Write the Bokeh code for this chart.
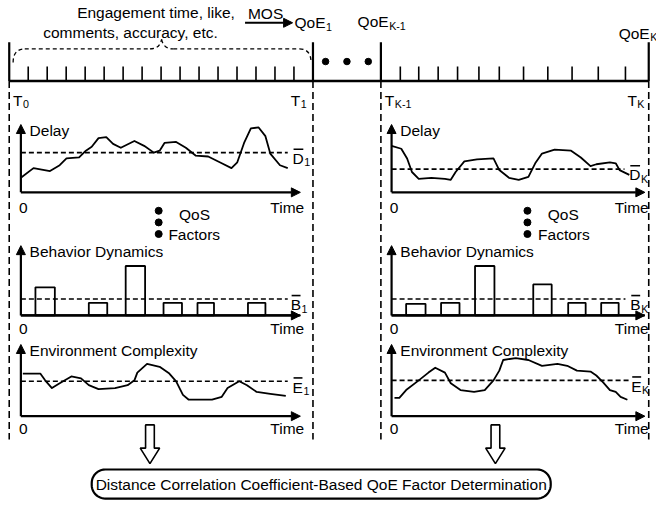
import numpy as np
from bokeh.plotting import figure
from bokeh.models import Range1d, Arrow, NormalHead
from bokeh.core.properties import value
from bokeh.embed import file_html
from bokeh.resources import INLINE

# ---------------- data (panel-local: time offset, value above axis) ----------------
delay1_t = [0, 13, 30, 40, 47, 60, 67, 73, 80, 88, 95, 103, 117, 127, 137, 143, 148, 160, 170, 180,
            193, 207, 217, 223, 230, 237, 245, 252, 257, 267, 275]
delay1_v = [15, 25, 22, 28, 35, 36, 43, 47, 56, 57, 50, 46, 53, 48, 41, 43, 51, 52, 46, 38,
            37, 30, 25, 31, 51, 66, 67, 58, 40, 28, 25]
delay1_mean = 41

delayK_t = [0, 10, 16, 21, 28, 41, 55, 61, 66, 75, 88, 105, 111, 121, 131, 141, 148, 155, 168, 185,
            195, 205, 211, 225, 231, 235, 245]
delayK_v = [48, 45, 35, 21, 14, 15, 14, 13, 21, 32, 34, 35, 23, 15, 13, 16, 30, 40, 44, 43,
            36, 27, 29, 31, 30, 23, 18]
delayK_mean = 24

beh1_left = [15, 70, 108, 147, 182, 234]
beh1_right = [35, 89, 128, 166, 199, 252]
beh1_h = [29, 13, 51, 13, 13, 13]
beh1_mean = 17

behK_left = [15, 51, 86, 146, 182, 216]
behK_right = [35, 70, 106, 165, 200, 234]
behK_h = [12, 13, 51, 32, 13, 13]
behK_mean = 17

env1_t = [2, 20, 25, 32, 40, 52, 62, 70, 80, 97, 110, 117, 120, 130, 143, 153, 160, 167, 173, 197,
          207, 213, 225, 233, 243, 257, 273]
env1_v = [44, 44, 37, 29, 34, 41, 39, 32, 28, 29, 32, 37, 45, 54, 51, 44, 36, 22, 17, 17,
          20, 29, 36, 32, 25, 23, 21]
env1_mean = 36

envK_t = [3, 8, 15, 28, 38, 45, 55, 61, 71, 85, 96, 105, 111, 115, 128, 141, 155, 171, 181, 191,
          205, 211, 218, 225, 231, 236, 243]
envK_v = [19, 19, 27, 37, 45, 50, 45, 34, 27, 25, 27, 37, 47, 58, 60, 58, 52, 54, 52, 47,
          46, 42, 35, 27, 25, 20, 17]
envK_mean = 37

left_ticks = [8 + 19.56 * i for i in range(1, 16)]
right_ticks = [411, 430, 450, 470, 492, 513, 538, 563, 588, 615, 643]

# ---------------- figure ----------------
FONT = value("Liberation Sans")
S = 0.97
FS = 16
SFS = 11

p = figure(width=656, height=500, x_range=Range1d(-1, 675), y_range=Range1d(516, 0),
           output_backend="svg", toolbar_location=None, min_border=0,
           x_axis_type=None, y_axis_type=None)
p.grid.visible = False
p.outline_line_color = None
p.background_fill_color = "white"

W = {'Q': .778, 'o': .556, 'E': .667, 'T': .611, 'D': .722, 'B': .667}


def tw(s, fs):
    return sum(W.get(c, .556) for c in s) * fs


def txt(x, y, s, fs=FS, align="left", baseline="middle"):
    p.text(x=[x], y=[y], text=[s], text_font=FONT, text_font_size=f"{fs * S:.1f}px",
           text_align=align, text_baseline=baseline, text_color="black")


def sub_label(x, y, main, sub, bar=False):
    txt(x, y, main)
    w = tw(main, FS)
    txt(x + w + 0.5, y + 4, sub, fs=SFS)
    if bar:
        p.segment(x0=[x + 1], y0=[y - 9.5], x1=[x + w - 0.5], y1=[y - 9.5], line_color="black", line_width=1.6)


def arrow(x0, y0, x1, y1, lw=2.2):
    p.add_layout(Arrow(end=NormalHead(size=9, fill_color="black", line_color="black", line_width=1),
                       x_start=x0, y_start=y0, x_end=x1, y_end=y1, line_width=lw, line_color="black"))


# ---- top timeline ----
p.line(x=[8, 667], y=[83, 83], line_color="black", line_width=2.6)
big = [8, 321, 391, 667]
p.segment(x0=big, y0=[43] * 4, x1=big, y1=[83] * 4, line_color="black", line_width=2.2)
p.segment(x0=big, y0=[83] * 4, x1=big, y1=[453] * 4, line_color="black", line_width=1.6, line_dash="7 4")
p.segment(x0=left_ticks, y0=[68] * len(left_ticks), x1=left_ticks, y1=[83] * len(left_ticks),
          line_color="black", line_width=1.6)
p.segment(x0=right_ticks, y0=[68] * len(right_ticks), x1=right_ticks, y1=[83] * len(right_ticks),
          line_color="black", line_width=1.6)
p.scatter(x=[334, 356, 378], y=[63, 63, 63], size=6.5, color="black")

# brace (dashed)
bd = dict(line_color="black", line_width=1.3, line_dash="4 3")
p.quadratic(x0=[12], y0=[64], x1=[24], y1=[50], cx=[12], cy=[50], **bd)
p.segment(x0=[24], y0=[50], x1=[153], y1=[50], **bd)
p.quadratic(x0=[153], y0=[50], x1=[165], y1=[40], cx=[163], cy=[50], **bd)
p.quadratic(x0=[165], y0=[40], x1=[177], y1=[50], cx=[167], cy=[50], **bd)
p.segment(x0=[177], y0=[50], x1=[307], y1=[50], **bd)
p.quadratic(x0=[307], y0=[50], x1=[319], y1=[64], cx=[319], cy=[50], **bd)

txt(78, 12, "Engagement time, like,")
txt(43, 33, "comments, accuracy, etc.")
txt(254, 13, "MOS")
arrow(251, 23, 300, 23, lw=2)
sub_label(302, 23, "QoE", "1")
sub_label(367, 22, "QoE", "K-1")
sub_label(636, 34, "QoE", "K")

sub_label(12, 103, "T", "0")
sub_label(298, 103, "T", "1")
sub_label(395, 103, "T", "K-1")
sub_label(645, 103, "T", "K")


# ---- panels ----
def axes(ox, oy, ytop, xend, label, time_dy):
    arrow(ox, oy, ox, ytop)
    arrow(ox, oy, xend, oy)
    txt(ox + 9, ytop + 6, label)
    txt(ox - 2, oy + time_dy, "0")
    txt(xend + 4, oy + time_dy, "Time", align="right")


def mean_line(ox, oy, m, xend, letter, sub, lx):
    p.line(x=[ox, xend], y=[oy - m, oy - m], line_color="black", line_width=1.6, line_dash="5 3")
    sub_label(lx, oy - m + 6, letter, sub, bar=True)


LC = dict(line_color="black", line_width=1.8, line_join="round")

# Delay
for ox, t, v, m, xend, dend, sub, lx in [
    (20, delay1_t, delay1_v, delay1_mean, 308, 295, "1", 300),
    (402, delayK_t, delayK_v, delayK_mean, 663, 642, "K", 647),
]:
    oy = 198
    axes(ox, oy, 128, xend, "Delay", 16)
    mean_line(ox, oy, m, dend, "D", sub, lx)
    p.line(x=[ox + a for a in t], y=[oy - b for b in v], **LC)

# QoS factors
for dx, qx, fx in [(162, 183, 172), (542, 563, 553)]:
    p.scatter(x=[dx] * 3, y=[217, 229, 241], size=7, color="black")
    txt(qx, 221, "QoS")
    txt(fx, 241, "Factors")

# Behavior
for ox, l, r, h, m, xend, dend, sub, lx in [
    (20, beh1_left, beh1_right, beh1_h, beh1_mean, 308, 295, "1", 298),
    (402, behK_left, behK_right, behK_h, behK_mean, 663, 643, "K", 648),
]:
    oy = 325
    axes(ox, oy, 253, xend, "Behavior Dynamics", 14)
    p.quad(left=[ox + a for a in l], right=[ox + a for a in r], top=[oy - b for b in h],
           bottom=[oy] * len(h), fill_color="white", line_color="black", line_width=1.8)
    mean_line(ox, oy, m, dend, "B", sub, lx)
    p.line(x=[ox, xend], y=[oy, oy], line_color="black", line_width=2.2)

# Environment
for ox, t, v, m, xend, dend, sub, lx in [
    (20, env1_t, env1_v, env1_mean, 308, 295, "1", 300),
    (402, envK_t, envK_v, envK_mean, 663, 647, "K", 649),
]:
    oy = 429
    axes(ox, oy, 355, xend, "Environment Complexity", 13)
    mean_line(ox, oy, m, dend, "E", sub, lx)
    p.line(x=[ox + a for a in t], y=[oy - b for b in v], **LC)

# hollow arrows
for cx in [153, 509]:
    xs = [cx - 4.5, cx + 4.5, cx + 4.5, cx + 10, cx, cx - 10, cx - 4.5]
    ys = [438, 438, 462, 462, 478, 462, 462]
    p.patch(x=xs, y=ys, fill_color="white", line_color="black", line_width=1.6)

# rounded box
L, R, T, B, rad = 93, 566, 484, 514, 14
ang = np.linspace(0, np.pi / 2, 12)
bx, by = [], []
for (cx, cy, a0) in [(R - rad, T + rad, -np.pi / 2), (R - rad, B - rad, 0), (L + rad, B - rad, np.pi / 2), (L + rad, T + rad, np.pi)]:
    for a in ang:
        bx.append(cx + rad * np.cos(a0 + a))
        by.append(cy + rad * np.sin(a0 + a))
p.patch(x=bx, y=by, fill_color="white", line_color="black", line_width=2.2)
txt((L + R) / 2, 499, "Distance Correlation Coefficient-Based QoE Factor Determination", align="center")

open("out.html", "w").write(file_html(p, INLINE))
